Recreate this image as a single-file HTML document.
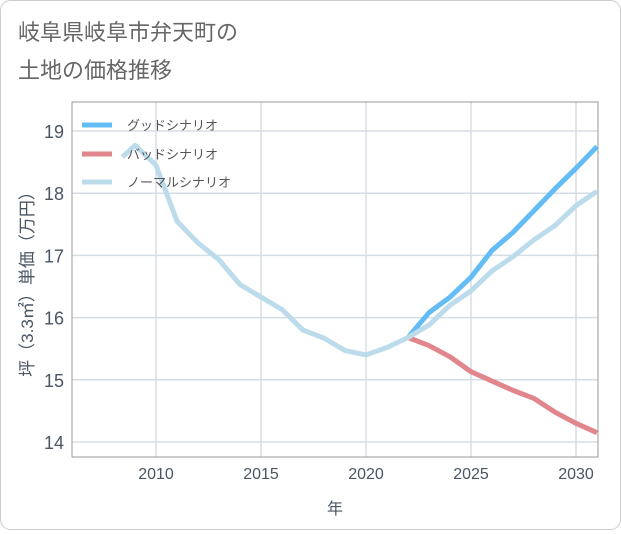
<!DOCTYPE html>
<html><head><meta charset="utf-8"><style>
body{margin:0;background:#fff}
svg text{font-family:"Liberation Sans","Noto Sans CJK JP",sans-serif}
</style></head><body>
<svg width="621" height="530" viewBox="0 0 621 530" xmlns="http://www.w3.org/2000/svg">
<rect x="0.5" y="0.5" width="620" height="529" rx="10" fill="#fff" stroke="#ccc"/>
<text x="18" y="40" font-size="22" fill="#666">岐阜県岐阜市弁天町の</text>
<text x="18" y="78" font-size="22" fill="#666">土地の価格推移</text>
<g id="grid"></g>
<rect x="72" y="102" width="526" height="355" fill="none" stroke="#999"/>
<g id="series"></g>
<g id="axes"></g>
<text x="335" y="514" font-size="16" fill="#4a5563" text-anchor="middle">年</text>
<text transform="translate(33,280) rotate(-90)" font-size="17" fill="#4a5563" text-anchor="middle">坪（3.3㎡）単価（万円）</text>
<g>
<line x1="82" y1="125" x2="112" y2="125" stroke="#64bcf5" stroke-width="5"/>
<text x="127" y="130" font-size="13" fill="#555">グッドシナリオ</text>
<line x1="82" y1="154" x2="112" y2="154" stroke="#e0868c" stroke-width="5"/>
<text x="127" y="159" font-size="13" fill="#555">バッドシナリオ</text>
<line x1="82" y1="182" x2="112" y2="182" stroke="#bcdcec" stroke-width="5"/>
<text x="127" y="187" font-size="13" fill="#555">ノーマルシナリオ</text>
</g>
</svg>
<script>
const normalYears=[2008.4,2009,2010,2011,2012,2013,2014,2015,2016,2017,2018,2019,2020,2021,2022,2023,2024,2025,2026,2027,2028,2029,2030,2031];
const normalVals=[18.58,18.77,18.45,17.55,17.2,16.93,16.53,16.33,16.13,15.8,15.67,15.47,15.4,15.52,15.68,15.88,16.2,16.43,16.75,16.98,17.25,17.48,17.8,18.03];
const goodYears=[2022,2023,2024,2025,2026,2027,2028,2029,2030,2031];
const goodVals=[15.68,16.08,16.33,16.65,17.08,17.37,17.72,18.07,18.4,18.75];
const badYears=[2022,2023,2024,2025,2026,2027,2028,2029,2030,2031];
const badVals=[15.68,15.55,15.37,15.13,14.98,14.83,14.7,14.48,14.3,14.15];
const xTicks=[2010,2015,2020,2025,2030];
const yTicks=[14,15,16,17,18,19];
const X=y=>156+(y-2010)*21;
const Y=v=>442-(v-14)*62.2;
const NS="http://www.w3.org/2000/svg";
const grid=document.getElementById('grid'),ser=document.getElementById('series'),ax=document.getElementById('axes');
function mk(p,t,a){const e=document.createElementNS(NS,t);for(const k in a)e.setAttribute(k,a[k]);p.appendChild(e);return e;}
xTicks.forEach(t=>{
 const l=mk(grid,'line',{x1:X(t),x2:X(t),y1:102,y2:457,stroke:'#d5dde5','stroke-width':1.5});
 
 
 const tx=mk(ax,'text',{x:X(t),y:479,'font-size':16,fill:'#4a5563','text-anchor':'middle'});tx.textContent=t;
 
 
});
yTicks.forEach(t=>{
 const l=mk(grid,'line',{x1:72,x2:598,y1:Y(t),y2:Y(t),stroke:'#d5dde5','stroke-width':1.5});
 
 
 const tx=mk(ax,'text',{x:64,y:Y(t)+7,'font-size':18,fill:'#4a5563','text-anchor':'end'});tx.textContent=t;
 
 
});
function line(ys,vs,c,name){
 const p=mk(ser,'polyline',{points:ys.map((y,i)=>X(y)+','+Y(vs[i])).join(' '),fill:'none',stroke:c,'stroke-width':5,'stroke-linejoin':'round'});
 
 
}
line(goodYears,goodVals,'#64bcf5','good-scenario-line');
line(badYears,badVals,'#e0868c','bad-scenario-line');
line(normalYears,normalVals,'#bcdcec','normal-scenario-line');
</script>
</body></html>
